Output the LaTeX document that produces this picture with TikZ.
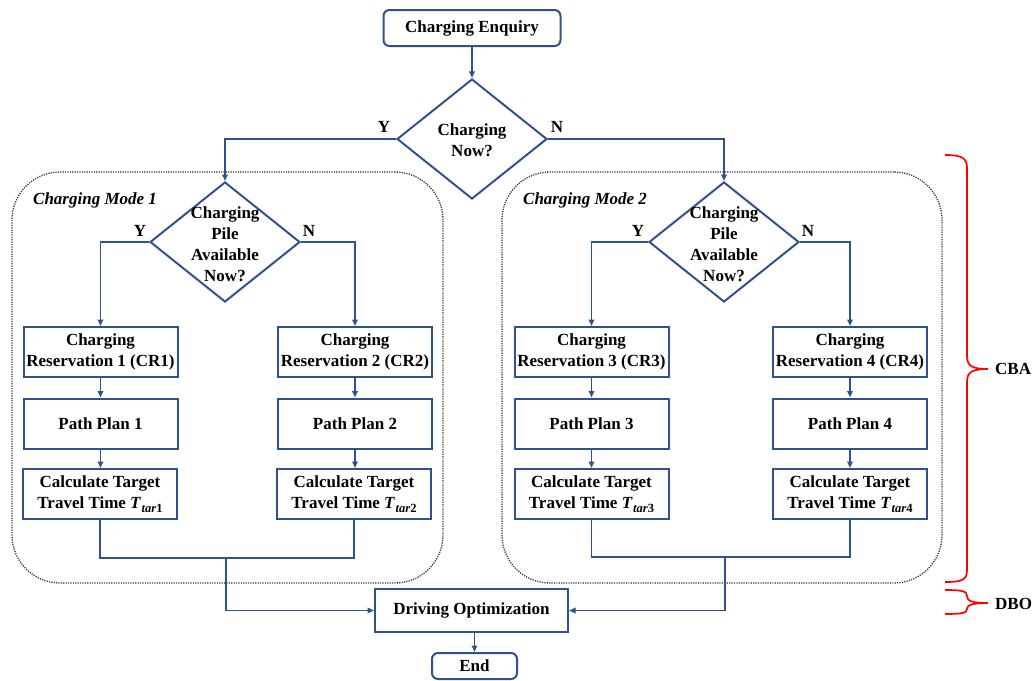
\documentclass[tikz,border=0pt]{standalone}
\usepackage{fontspec}
\setmainfont{Liberation Serif}
\usetikzlibrary{shapes.geometric,arrows.meta}
\definecolor{bline}{RGB}{47,82,143}
\newcommand{\Ttar}[1]{\textit{T}\kern0.5pt\raisebox{-0.45ex}{\fontsize{12.5}{12.5}\selectfont\textit{tar}\textup{#1}}}
\begin{document}
\begin{tikzpicture}[x=1pt,y=-1pt,
  every node/.style={font=\fontsize{17}{21}\selectfont\bfseries, inner sep=0pt},
  stepbox/.style={draw=bline, line width=2pt, fill=white, align=center, minimum width=154pt, minimum height=50pt},
  termbox/.style={stepbox, rounded corners=6pt},
  dia/.style={draw=bline, line width=2pt, diamond, minimum width=150pt, minimum height=120pt, inner sep=0pt},
  diatext/.style={align=center},
  modebox/.style={draw=black!80, dash pattern=on 1.2pt off 1.2pt, line width=1.3pt, rounded corners=48pt},
  modelabel/.style={font=\fontsize{17}{21}\selectfont\bfseries\itshape, anchor=west},
  conn/.style={draw=bline, line width=1.7pt},
  arr/.style={conn, -{Triangle[length=6.5pt,width=5.5pt]}},
  brc/.style={draw=red, line width=1.7pt}
]
\useasboundingbox (0,0) rectangle (1035,680);

% mode containers
\node[modebox, minimum width=431pt, minimum height=411pt] (mode1) at (227.5,377.5) {};
\node[modebox, minimum width=440pt, minimum height=411pt] (mode2) at (722,377.5) {};
\node[modelabel] (ml1) at (33,200) {Charging Mode 1};
\node[modelabel] (ml2) at (523,200) {Charging Mode 2};

% top
\node[termbox, minimum width=177pt, minimum height=36pt] (enq) at (472,28) {Charging Enquiry};
\node[dia] (d0) at (472,139) {};
\node[diatext] (d0t) at (472,140) {Charging\\Now?};
\node (y0) at (384,127) {Y};
\node (n0) at (557,127) {N};

% mode 1
\node[dia] (d1) at (225,242) {};
\node[diatext] (d1t) at (225,244) {Charging\\Pile\\Available\\Now?};
\node (y1) at (140,231) {Y};
\node (n1) at (309,231) {N};
\node[stepbox] (cr1) at (100.5,352) {Charging\\Reservation 1 (CR1)};
\node[stepbox] (cr2) at (355,352) {Charging\\Reservation 2 (CR2)};
\node[stepbox] (pp1) at (100.5,423.5) {Path Plan 1};
\node[stepbox] (pp2) at (355,423.5) {Path Plan 2};
\node[stepbox] (ct1) at (100,494) {Calculate Target\\Travel Time \Ttar{1}};
\node[stepbox] (ct2) at (354,494) {Calculate Target\\Travel Time \Ttar{2}};

% mode 2
\node[dia] (d2) at (724,242) {};
\node[diatext] (d2t) at (724,244) {Charging\\Pile\\Available\\Now?};
\node (y2) at (638,231) {Y};
\node (n2) at (808,231) {N};
\node[stepbox] (cr3) at (591.5,352) {Charging\\Reservation 3 (CR3)};
\node[stepbox] (cr4) at (850,352) {Charging\\Reservation 4 (CR4)};
\node[stepbox] (pp3) at (591.5,423.5) {Path Plan 3};
\node[stepbox] (pp4) at (850,423.5) {Path Plan 4};
\node[stepbox] (ct3) at (591.5,494) {Calculate Target\\Travel Time \Ttar{3}};
\node[stepbox] (ct4) at (850,494) {Calculate Target\\Travel Time \Ttar{4}};

% bottom
\node[stepbox, minimum width=193pt, minimum height=43pt] (dro) at (471.5,610.5) {Driving Optimization};
\node[termbox, minimum width=85pt, minimum height=26pt] (endn) at (474.5,666) {End};

\coordinate (j1) at (226,558);
\coordinate (j2) at (725,557);

% connectors
\draw[arr] (enq) -- (d0);
\draw[arr] (d0.west) -| (d1.north);
\draw[arr] (d0.east) -| (d2.north);
\draw[arr] (d1.west) -| (cr1.north);
\draw[arr] (d1.east) -| (cr2.north);
\draw[arr] (d2.west) -| (cr3.north);
\draw[arr] (d2.east) -| (cr4.north);
\draw[arr] (cr1) -- (pp1);
\draw[arr] (cr2) -- (pp2);
\draw[arr] (cr3) -- (pp3);
\draw[arr] (cr4) -- (pp4);
\draw[arr] (pp1) -- (ct1.north -| pp1);
\draw[arr] (pp2) -- (ct2.north -| pp2);
\draw[arr] (pp3) -- (ct3);
\draw[arr] (pp4) -- (ct4);
\draw[conn] (ct1.south) -- (ct1.south |- j1) -- (ct2.south |- j1) -- (ct2.south);
\draw[conn] (ct3.south) -- (ct3.south |- j2) -- (ct4.south |- j2) -- (ct4.south);
\draw[arr] (j1) |- (dro.west);
\draw[arr] (j2) |- (dro.east);
\draw[arr] (dro.south -| endn) -- (endn);

% braces
\draw[brc] (945,155) .. controls (962,155) and (967,158) .. (967,168) -- (967,356)
  .. controls (967,366) and (972,369) .. (988,369)
  .. controls (972,369) and (967,372) .. (967,382) -- (967,570)
  .. controls (967,580) and (962,582) .. (945,582);
\draw[brc] (945,590) .. controls (962,590) and (967,591) .. (967,596)
  .. controls (967,601) and (972,603) .. (988,603)
  .. controls (972,603) and (967,605) .. (967,609)
  .. controls (967,613) and (962,614) .. (945,614);
\node[anchor=west] (cba) at (995,369) {CBA};
\node[anchor=west] (dbo) at (995,604) {DBO};
\end{tikzpicture}
\end{document}
